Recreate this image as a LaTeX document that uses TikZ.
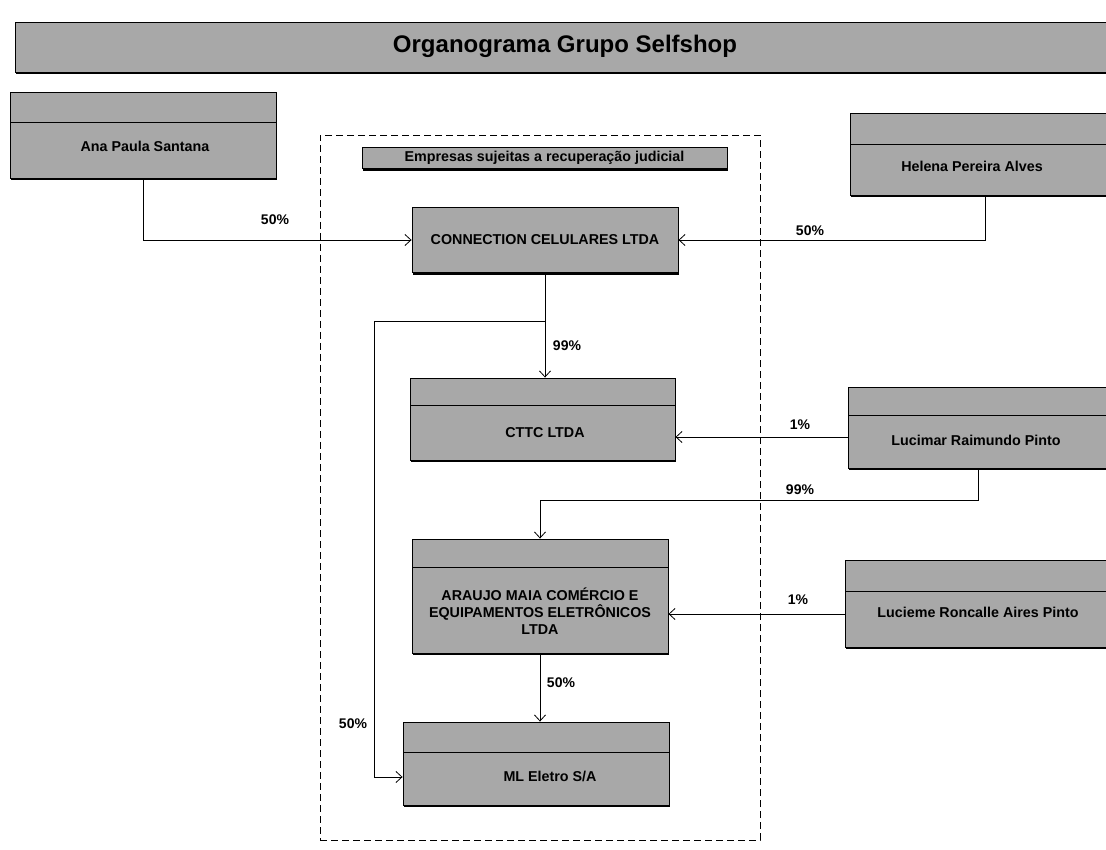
\documentclass[tikz,border=0pt]{standalone}
\usepackage{fontspec}
\setmainfont{Liberation Sans}
\usetikzlibrary{arrows.meta,shadows,calc}
\definecolor{boxgray}{gray}{0.66}
\begin{document}
\begin{tikzpicture}[x=1pt,y=-1pt,
  orgbox/.style={draw=black, line width=0.9pt, fill=boxgray, inner sep=0pt,
    drop shadow={shadow xshift=0.8pt, shadow yshift=-2.2pt, fill=black, opacity=1}},
  divider/.style={path picture={\draw[line width=0.9pt]
    ($(path picture bounding box.north west)+(0,#1)$) --
    ($(path picture bounding box.north east)+(0,#1)$);}},
  boxfont/.style={font=\bfseries\fontsize{14.3}{17}\selectfont},
  boxtext/.style={boxfont, align=center, inner sep=1pt},
  pct/.style={font=\bfseries\fontsize{14}{16}\selectfont, inner sep=1pt},
  conn/.style={line width=0.8pt, -{Straight Barb[length=6pt,width=11pt]}},
  grpbox/.style={draw=black, line width=0.9pt, dash pattern=on 7pt off 4pt, inner sep=0pt}
]
\useasboundingbox (0,0) rectangle (1106,850);
\clip (0,0) rectangle (1106,850);

% title bar
\node[orgbox, minimum width=1105pt, minimum height=50pt] (titlebar) at (567.5,47) {};
\node[font=\bfseries\fontsize{24}{28}\selectfont] (title) at (565,46) {Organograma Grupo Selfshop};

% group container
\node[grpbox, minimum width=440pt, minimum height=705pt] (grp) at (540,487.5) {};
\node[orgbox, boxfont, minimum width=365pt, minimum height=21pt] (emp) at (544.5,158) {Empresas sujeitas a recuperação judicial};

% boxes
\node[orgbox, divider=30, minimum width=266pt, minimum height=86pt] (ana) at (143,135) {};
\node[boxtext] (anat) at (145,146) {Ana Paula  Santana};

\node[orgbox, boxfont, minimum width=266pt, minimum height=65pt] (con) at (545,240) {CONNECTION CELULARES  LTDA};

\node[orgbox, divider=31, minimum width=270pt, minimum height=82pt] (hel) at (985,154) {};
\node[boxtext] (helt) at (972,166) {Helena Pereira Alves};

\node[orgbox, divider=27, minimum width=265pt, minimum height=82pt] (cttc) at (542.5,419) {};
\node[boxtext] (cttct) at (545,433) {CTTC LTDA};

\node[orgbox, divider=28, minimum width=272pt, minimum height=81pt] (luc) at (984,427.5) {};
\node[boxtext] (luct) at (976,440) {Lucimar Raimundo Pinto};

\node[orgbox, divider=28, minimum width=256pt, minimum height=114pt] (ara) at (540,596) {};
\node[boxtext] (arat) at (540,611) {ARAUJO MAIA COMÉRCIO E\\EQUIPAMENTOS ELETRÔNICOS\\LTDA};

\node[orgbox, divider=31, minimum width=274pt, minimum height=87pt] (lue) at (982,603.5) {};
\node[boxtext] (luet) at (978,612) {Lucieme Roncalle Aires Pinto};

\node[orgbox, divider=30, minimum width=266pt, minimum height=83pt] (ml) at (536,763.5) {};
\node[boxtext] (mlt) at (550,776) {ML Eletro S/A};

% connectors
\draw[conn] (ana.south) |- (con.west);
\draw[conn] (hel.south) |- (con.east);
\draw[conn] (con.south) -- (con.south |- cttc.north);
\coordinate (br) at ($(con.south)+(0,48)$);
\coordinate (bl) at (br -| 374,0);
\coordinate (mlin) at ([yshift=-13.5pt]ml.west);
\draw[conn] (br) -- (bl) |- (mlin);
\coordinate (lmw) at ([yshift=-9.5pt]luc.west);
\draw[conn] (lmw) -- (lmw -| cttc.east);
\coordinate (lmb) at ([xshift=-6pt]luc.south);
\draw[conn] (lmb) -- ++(0,32) -| (ara.north);
\coordinate (lew) at ([yshift=-10.5pt]lue.west);
\draw[conn] (lew) -- (lew -| ara.east);
\draw[conn] (ara.south) -- (ara.south |- ml.north);

% percentages
\node[pct] (p1) at (275,220) {50\%};
\node[pct] (p2) at (810,231) {50\%};
\node[pct] (p3) at (567,346) {99\%};
\node[pct] (p4) at (800,425) {1\%};
\node[pct] (p5) at (800,490) {99\%};
\node[pct] (p6) at (798,600) {1\%};
\node[pct] (p7) at (561,683) {50\%};
\node[pct] (p8) at (353,724) {50\%};
\end{tikzpicture}
\end{document}
